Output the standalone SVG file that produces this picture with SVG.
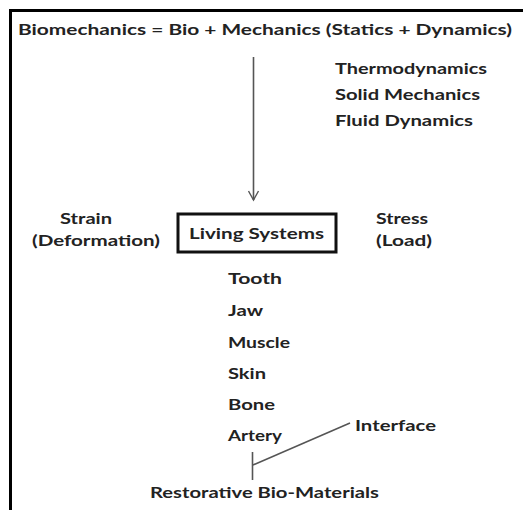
<svg xmlns="http://www.w3.org/2000/svg" width="523" height="510" viewBox="0 0 523 510">
<style>
text{font-family:Lato,"Open Sans","Liberation Sans",sans-serif;font-weight:700;font-size:15.5px;fill:#222}
.ln{stroke:#555;stroke-width:1.6;fill:none}
</style>
<defs>
<marker id="arr" markerWidth="12" markerHeight="12" refX="10" refY="6" orient="auto" markerUnits="userSpaceOnUse">
<path d="M1,1 L10,6 L1,11" fill="none" stroke="#555" stroke-width="1.4"/>
</marker>
</defs>
<rect width="523" height="510" fill="#fff"/>
<g id="frame">
<path d="M10.5,510 V10.5 H523" fill="none" stroke="#000" stroke-width="3"/>
</g>
<g id="connectors">
<line class="ln" x1="253.5" y1="57" x2="253.5" y2="200" marker-end="url(#arr)"/>
<line class="ln" x1="252.5" y1="452" x2="252.5" y2="480"/>
<line class="ln" x1="253" y1="465" x2="350" y2="423"/>
</g>
<g id="title"><text x="18" y="35" textLength="494" lengthAdjust="spacingAndGlyphs">Biomechanics = Bio + Mechanics (Statics + Dynamics)</text></g>
<g id="thermo"><text x="335" y="74" textLength="152" lengthAdjust="spacingAndGlyphs">Thermodynamics</text></g>
<g id="solid"><text x="335" y="100" textLength="145" lengthAdjust="spacingAndGlyphs">Solid Mechanics</text></g>
<g id="fluid"><text x="335" y="126" textLength="138" lengthAdjust="spacingAndGlyphs">Fluid Dynamics</text></g>
<g id="strain"><text x="60" y="224" textLength="52" lengthAdjust="spacingAndGlyphs">Strain</text><text x="32" y="246" textLength="128" lengthAdjust="spacingAndGlyphs">(Deformation)</text></g>
<g id="living"><rect x="178" y="214" width="158" height="38" fill="none" stroke="#111" stroke-width="3"/><text x="189" y="239" textLength="135" lengthAdjust="spacingAndGlyphs">Living Systems</text></g>
<g id="stress"><text x="376" y="224" textLength="52" lengthAdjust="spacingAndGlyphs">Stress</text><text x="376" y="246" textLength="56" lengthAdjust="spacingAndGlyphs">(Load)</text></g>
<g id="tooth"><text x="228" y="284" textLength="54" lengthAdjust="spacingAndGlyphs">Tooth</text></g>
<g id="jaw"><text x="228" y="316" textLength="35" lengthAdjust="spacingAndGlyphs">Jaw</text></g>
<g id="muscle"><text x="228" y="348" textLength="62" lengthAdjust="spacingAndGlyphs">Muscle</text></g>
<g id="skin"><text x="228" y="379" textLength="38" lengthAdjust="spacingAndGlyphs">Skin</text></g>
<g id="bone"><text x="228" y="410" textLength="47" lengthAdjust="spacingAndGlyphs">Bone</text></g>
<g id="artery"><text x="228" y="441" textLength="54" lengthAdjust="spacingAndGlyphs">Artery</text></g>
<g id="interface"><text x="355" y="431" textLength="81" lengthAdjust="spacingAndGlyphs">Interface</text></g>
<g id="restorative"><text x="150" y="498" textLength="229" lengthAdjust="spacingAndGlyphs">Restorative Bio-Materials</text></g>
</svg>
